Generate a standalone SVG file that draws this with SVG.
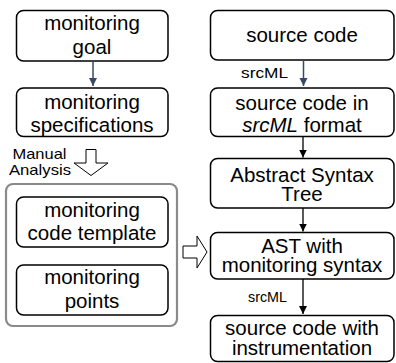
<svg xmlns="http://www.w3.org/2000/svg" width="396" height="363" viewBox="0 0 396 363">
<style>
.box{fill:#fff;stroke:#000;stroke-width:1.5}
.grp{fill:none;stroke:#8a8a8a;stroke-width:2.2}
.t{font-family:"Liberation Sans",Arial,Helvetica,sans-serif;font-size:20.5px;fill:#000;text-anchor:middle}
.s{font-family:"Liberation Sans",Arial,Helvetica,sans-serif;font-size:15px;fill:#000}
.blue{stroke:#3a4868;stroke-width:1.5;fill:none}
.blk{stroke:#000;stroke-width:1.3;fill:none}
.hol{fill:#fff;stroke:#000;stroke-width:1}
</style>
<defs>
<marker id="ab" viewBox="0 0 8 10" refX="8" refY="5" markerWidth="8" markerHeight="10" markerUnits="userSpaceOnUse" orient="auto"><path d="M0,1 L8,5 L0,9 z" fill="#3a4868"/></marker>
<marker id="ak" viewBox="0 0 8 10" refX="8" refY="5" markerWidth="8" markerHeight="10" markerUnits="userSpaceOnUse" orient="auto"><path d="M0,1 L8,5 L0,9 z" fill="#000"/></marker>
</defs>

<rect class="grp" x="6" y="184" width="171" height="142" rx="7"/>

<g id="goal"><rect class="box" x="16.5" y="10.5" width="151.5" height="50.5" rx="7"/>
<text class="t" x="92" y="29.5">monitoring</text><text class="t" x="92" y="53.5">goal</text></g>

<g id="spec"><rect class="box" x="16.5" y="88" width="151.5" height="48.5" rx="7"/>
<text class="t" x="92" y="109">monitoring</text><text class="t" x="92" y="131.5">specifications</text></g>

<g id="template"><rect class="box" x="16.5" y="197" width="151.5" height="50" rx="7"/>
<text class="t" x="92" y="217">monitoring</text><text class="t" x="92" y="240">code template</text></g>

<g id="points"><rect class="box" x="16.5" y="265" width="151.5" height="50" rx="7"/>
<text class="t" x="92" y="283.5">monitoring</text><text class="t" x="92" y="307.5">points</text></g>

<g id="src"><rect class="box" x="210.5" y="10.5" width="183.5" height="49.5" rx="7"/>
<text class="t" x="302" y="42">source code</text></g>

<g id="srcml"><rect class="box" x="210.5" y="88" width="183.5" height="48.5" rx="7"/>
<text class="t" x="302" y="110">source code in</text><text class="t" x="302" y="131.5"><tspan font-style="italic">srcML</tspan> format</text></g>

<g id="ast"><rect class="box" x="210.5" y="158.5" width="183.5" height="49.5" rx="7"/>
<text class="t" x="302" y="181.5">Abstract Syntax</text><text class="t" x="302" y="200.5">Tree</text></g>

<g id="astmon"><rect class="box" x="210.5" y="232.5" width="183.5" height="46.5" rx="7"/>
<text class="t" x="302" y="252.5">AST with</text><text class="t" x="302" y="271.5">monitoring syntax</text></g>

<g id="instr"><rect class="box" x="210.5" y="315.5" width="183.5" height="46" rx="7"/>
<text class="t" x="302" y="335">source code with</text><text class="t" x="302" y="355">instrumentation</text></g>

<g id="connectors">
<line class="blue" x1="93" y1="61" x2="93" y2="86" marker-end="url(#ab)"/>
<line class="blue" x1="303.5" y1="60" x2="303.5" y2="86" marker-end="url(#ab)"/>
<line class="blk" x1="303" y1="136.5" x2="303" y2="157.5" marker-end="url(#ak)"/>
<line class="blk" x1="303" y1="208" x2="303" y2="231.5" marker-end="url(#ak)"/>
<line class="blk" x1="303" y1="279" x2="303" y2="314" marker-end="url(#ak)"/>
<polygon class="hol" points="86,149.5 96,149.5 96,163 108,163 91,175.5 74,163 86,163"/>
<polygon class="hol" points="183,246 197,246 197,236 207,252 197,268 197,258 183,258"/>
<text class="s" x="241" y="78" textLength="47" lengthAdjust="spacingAndGlyphs">srcML</text>
<text class="s" x="248" y="301.7" textLength="39" lengthAdjust="spacingAndGlyphs">srcML</text>
<text class="s" x="39.5" y="159" text-anchor="middle" textLength="54" lengthAdjust="spacingAndGlyphs">Manual</text>
<text class="s" x="40" y="174.5" text-anchor="middle" textLength="62" lengthAdjust="spacingAndGlyphs">Analysis</text>
</g>
</svg>
